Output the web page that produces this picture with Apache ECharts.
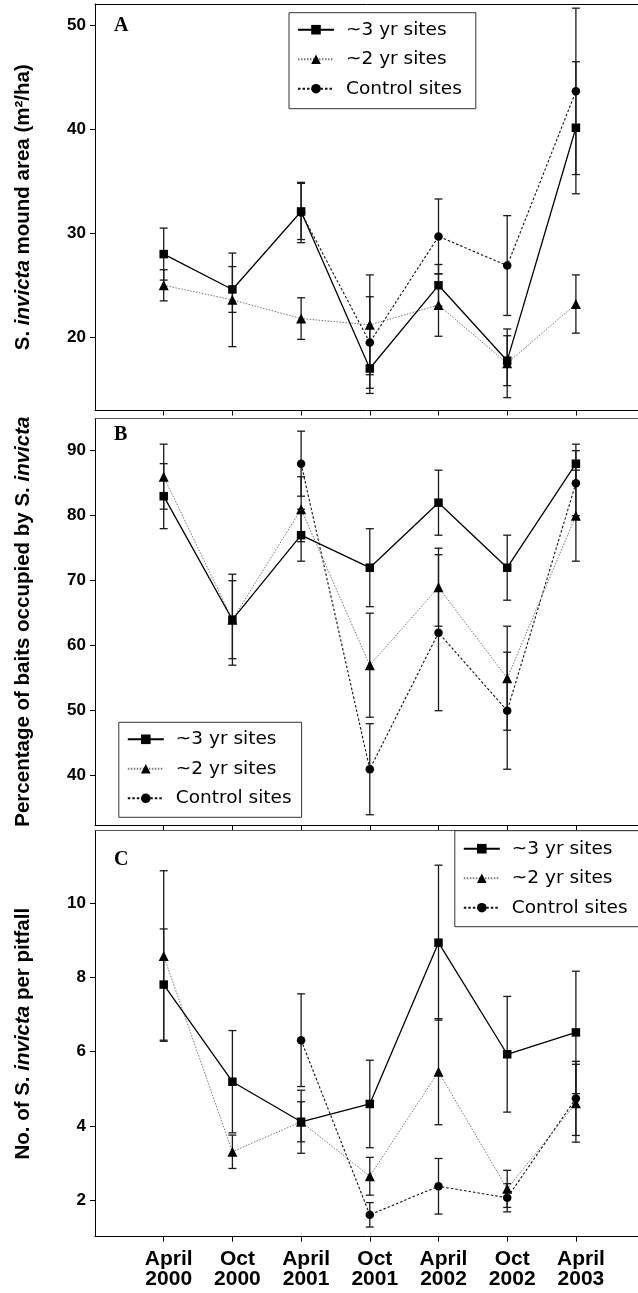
<!DOCTYPE html>
<html><head><meta charset="utf-8">
<script src="https://cdn.jsdelivr.net/npm/echarts@6/dist/echarts.min.js"></script>
<style>html,body{margin:0;padding:0;background:#fff}#c{width:638px;height:1293px}</style>
</head><body><div id="c"></div>
<script>
// ---------- data ----------
const categories = ['April\n2000','Oct\n2000','April\n2001','Oct\n2001','April\n2002','Oct\n2002','April\n2003'];
const seriesNames = ['~3 yr sites','~2 yr sites','Control sites'];

// Panel A: S. invicta mound area (m2/ha)
const moundSq      = [28.0, 24.6, 32.1, 17.0, 25.0, 17.75, 40.15];
const moundSqErr   = [2.5, 2.2, 2.7, 2.4, 2.0, 2.4, 6.35];
const moundTri     = [25.0, 23.6, 21.8, 21.2, 23.1, 17.5, 23.2];
const moundTriErr  = [1.5, 4.5, 2.0, 4.8, 3.0, 3.3, 2.8];
const moundCtl     = [null, null, 32.0, 19.5, 29.7, 26.9, 43.65];
const moundCtlErr  = [null, null, 2.9, 4.4, 3.6, 4.8, 8.0];
const moundTicks   = [20, 30, 40, 50];

// Panel B: percentage of baits occupied
const baitSq       = [83, 64, 77, 72, 82, 72, 88];
const baitSqErr    = [5, 7, 4, 6, 5, 5, 3];
const baitTri      = [86, 64, 81, 57, 69, 55, 80];
const baitTriErr   = [5, 6, 5, 8, 6, 8, 7];
const baitCtl      = [null, null, 88, 41, 62, 50, 85];
const baitCtlErr   = [null, null, 5, 7, 12, 9, 5];
const baitTicks    = [40, 50, 60, 70, 80, 90];

// Panel C: number per pitfall
const pitSq        = [7.81, 5.19, 4.11, 4.59, 8.94, 5.93, 6.52];
const pitSqErr     = [1.5, 1.38, 0.54, 1.18, 2.09, 1.56, 1.65];
const pitTri       = [8.58, 3.30, 4.11, 2.64, 5.46, 2.30, 4.61];
const pitTriErr    = [2.3, 0.45, 0.85, 0.51, 1.43, 0.5, 1.05];
const pitCtl       = [null, null, 6.31, 1.60, 2.37, 2.06, 4.74];
const pitCtlErr    = [null, null, 1.25, 0.33, 0.75, 0.38, 1.0];
const pitTicks     = [2, 4, 6, 8, 10];

// ---------- build ----------
const xTicks = categories.map((c, i) => i + 1);
const pts = (vals) => vals.map((v, i) => v == null ? null : [i + 1, v]).filter(Boolean);
const errs = (vals, e) => vals.map((v, i) => v == null ? null : [i + 1, v - e[i], v + e[i]]).filter(Boolean);

const styles = [
  {symbol: 'rect', symbolSize: 8.5, line: {color: '#000', width: 1.3, type: 'solid'}},
  {symbol: 'triangle', symbolSize: 10, line: {color: '#777', width: 1, type: [1.5, 1.5]}},
  {symbol: 'circle', symbolSize: 8.5, line: {color: '#111', width: 1.1, type: [2.5, 2]}}
];

function renderErr(params, api) {
  const x = api.value(0), lo = api.value(1), hi = api.value(2);
  const a = api.coord([x, hi]), b = api.coord([x, lo]);
  const w = 4;
  const st = {stroke: '#1a1a1a', lineWidth: 1.3};
  return {type: 'group', children: [
    {type: 'line', shape: {x1: a[0], y1: a[1], x2: b[0], y2: b[1]}, style: st},
    {type: 'line', shape: {x1: a[0] - w, y1: a[1], x2: a[0] + w, y2: a[1]}, style: st},
    {type: 'line', shape: {x1: b[0] - w, y1: b[1], x2: b[0] + w, y2: b[1]}, style: st}
  ]};
}

const panels = [
  {top: 4, height: 406.5, min: 12.96, max: 52.05, ticks: moundTicks,
   data: [[moundSq, moundSqErr], [moundTri, moundTriErr], [moundCtl, moundCtlErr]],
   name: 'S. {i|invicta} mound area (m²/ha)', letter: 'A', letterY: 16},
  {top: 418.3, height: 406.7, min: 32.42, max: 94.98, ticks: baitTicks,
   data: [[baitSq, baitSqErr], [baitTri, baitTriErr], [baitCtl, baitCtlErr]],
   name: 'Percentage of baits occupied by S. {i|invicta}', letter: 'B', letterY: 425},
  {top: 830.7, height: 406, min: 1.01, max: 11.96, ticks: pitTicks,
   data: [[pitSq, pitSqErr], [pitTri, pitTriErr], [pitCtl, pitCtlErr]],
   name: 'No. of S. {i|invicta} per pitfall', letter: 'C', letterY: 850}
];

const grid = [], xAxis = [], yAxis = [], series = [], graphic = [];
const XMAX = 7.904;
panels.forEach((p, k) => {
  grid.push({left: 95, top: p.top, right: 0, height: p.height, containLabel: false});
  xAxis.push({
    type: 'value', gridIndex: k, min: 0, max: XMAX, position: 'bottom',
    splitLine: {show: false},
    axisLine: {show: true, onZero: false, lineStyle: {color: '#000', width: 1}},
    axisTick: {show: true, inside: false, length: 5, customValues: xTicks, lineStyle: {color: '#000', width: 1}},
    axisLabel: k === 2 ? {
      show: true, customValues: xTicks, margin: 13,
      formatter: v => categories[Math.round(v) - 1] || '',
      fontFamily: 'Liberation Sans', fontWeight: 'bold', fontSize: 21, lineHeight: 19.5,
      color: '#000', padding: [0, 0, 0, 10]
    } : {show: false}
  });
  xAxis.push({
    type: 'value', gridIndex: k, min: 0, max: XMAX, position: 'top',
    splitLine: {show: false},
    axisLine: {show: true, onZero: false, lineStyle: {color: k === 0 ? '#000' : '#555', width: 1}},
    axisTick: {show: false}, axisLabel: {show: false}
  });
  yAxis.push({
    type: 'value', gridIndex: k, min: p.min, max: p.max,
    splitLine: {show: false},
    axisLine: {show: true, onZero: false, lineStyle: {color: '#000', width: 1}},
    axisTick: {show: true, length: 5, customValues: p.ticks, lineStyle: {color: '#000'}},
    axisLabel: {show: true, customValues: p.ticks, margin: 9, fontFamily: 'Liberation Sans',
                fontWeight: 'bold', fontSize: 17, color: '#000'},
    name: p.name, nameLocation: 'middle', nameGap: 61, nameRotate: 90,
    nameTextStyle: {fontFamily: 'Liberation Sans', fontWeight: 'bold', fontSize: 20.5, color: '#000',
                    rich: {i: {fontFamily: 'Liberation Sans', fontWeight: 'bold', fontStyle: 'italic', fontSize: 20.5, color: '#000'}}}
  });
  p.data.forEach((d, s) => {
    series.push({
      type: 'custom', name: seriesNames[s] + ' err' + k, xAxisIndex: 2 * k, yAxisIndex: k,
      renderItem: renderErr, data: errs(d[0], d[1]), encode: {x: 0, y: [1, 2]}, z: 2, silent: true
    });
  });
  p.data.forEach((d, s) => {
    const st = styles[s];
    series.push({
      type: 'line', name: seriesNames[s], xAxisIndex: 2 * k, yAxisIndex: k,
      data: pts(d[0]), symbol: st.symbol, symbolSize: st.symbolSize, showSymbol: true,
      itemStyle: {color: '#000', borderWidth: 0},
      lineStyle: st.line, z: 3 + (2 - s), animation: false, silent: true
    });
  });
  graphic.push({type: 'text', left: 114, top: p.letterY,
    style: {text: p.letter, font: 'bold 20px "Liberation Serif"', fill: '#000'}});
});

function makeLegend(left, top, pad) {
  return {
    show: true, orient: 'vertical', left: left, top: top, data: seriesNames,
    itemWidth: 36, itemHeight: 12, itemGap: 9.5, padding: pad,
    borderColor: '#333', borderWidth: 1, backgroundColor: '#fff', selectedMode: false,
    textStyle: {fontFamily: 'DejaVu Sans', fontSize: 18.5, color: '#000', lineHeight: 20, padding: [0, 0, 0, 7]}
  };
}

const option = {
  animation: false,
  backgroundColor: '#fff',
  grid, xAxis, yAxis, series, graphic,
  legend: [
    makeLegend(289, 12.7, [7, 14, 10, 8]),
    makeLegend(118.8, 722.3, [7, 10, 9, 8]),
    makeLegend(454.8, 830.7, [8, 20, 9, 8])
  ]
};
const chart = echarts.init(document.getElementById('c'), null, {renderer: 'canvas'});
chart.setOption(option);
</script>
</body></html>
